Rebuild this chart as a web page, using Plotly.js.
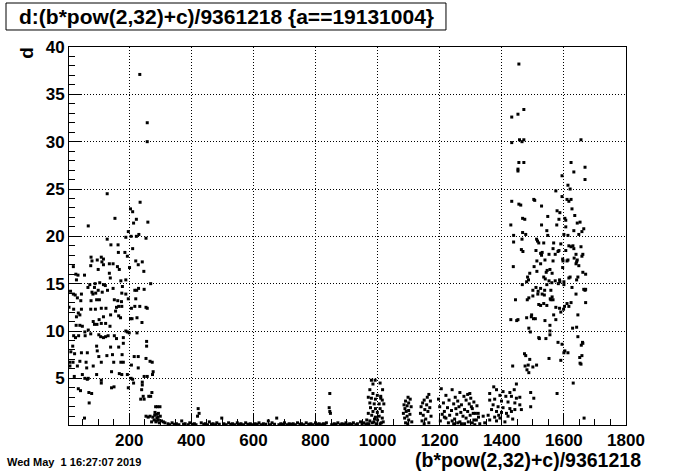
<!DOCTYPE html>
<html>
<head>
<meta charset="utf-8">
<script src="https://cdn.plot.ly/plotly-3.0.1.min.js"></script>
<style>html,body{margin:0;padding:0;background:#fff;}#chart{width:696px;height:472px;}</style>
</head>
<body>
<div id="chart"></div>
<script>
// ---- data (x = (b*pow(2,32)+c)/9361218, y = d) ----
const leftX = [234,258,258,129,235,154,260,68,204,211,214,223,231,197,206,223,254,129,141,164,189,211,165,186,194,77,110,117,80,97,112,117,136,148,76,20,162,221,229,242,201,168,100,247,136,28,35,56,139,173,189,269,105,117,123,30,73,90,67,88,148,178,218,224,230,248,11,20,26,46,33,80,83,92,100,113,130,176,189,197,221,152,163,175,77,95,104,44,6,21,46,76,91,110,125,159,166,176,207,218,234,254,258,36,41,30,156,140,166,172,204,209,225,117,103,241,84,88,96,110,124,49,29,41,138,68,57,189,194,200,225,21,27,37,58,76,102,108,117,124,132,152,159,181,256,256,18,95,140,166,181,97,12,24,46,65,102,128,146,177,216,229,254,267,274,9,19,41,61,110,150,173,181,9,33,84,207,229,63,143,23,49,95,168,176,194,248,258,277,275,57,65,68,110,110,206,211,214,36,43,143,151,197,242,242,240,70,79,71,273,237,245,248,263,269,56,254,261,267,285,291,299,283,289,294,276,289,300,280,294,304,286,310,272,297,315,282,292,287];
const leftY = [37.1,32.0,30.0,24.5,23.6,21.9,21.5,21.1,22.9,22.6,21.4,21.8,20.2,20.5,20.0,20.0,19.8,19.7,19.1,19.1,19.9,18.7,18.3,18.3,17.9,17.8,17.8,17.6,17.4,17.5,17.3,17.0,17.1,17.1,16.9,16.8,16.8,17.4,17.0,17.3,16.7,16.5,16.5,16.3,16.1,16.0,15.9,15.9,15.6,15.3,15.4,15.0,15.1,14.9,14.8,15.4,14.9,15.0,14.6,14.6,14.5,14.7,14.3,14.3,14.5,14.4,14.2,13.9,13.8,13.9,13.5,14.1,13.9,14.0,14.3,14.1,14.3,14.0,13.9,13.4,13.4,13.3,13.2,13.1,13.2,13.3,13.3,13.2,12.5,12.3,12.3,12.3,12.3,12.4,12.4,12.5,12.6,12.6,12.4,12.6,12.6,12.5,12.4,11.9,11.7,11.5,12.1,11.7,11.6,11.4,11.3,11.3,11.4,11.5,11.2,10.9,11.0,10.7,10.7,10.8,10.8,10.5,10.6,10.6,10.5,10.1,9.9,10.0,9.9,9.8,9.8,9.5,9.3,9.5,9.5,9.7,9.6,9.4,9.3,9.4,9.5,9.5,9.2,9.3,8.9,8.4,8.4,8.4,8.3,8.3,8.7,7.9,7.8,7.6,7.7,7.7,7.3,7.4,7.5,7.5,7.3,7.3,7.1,6.8,6.7,6.7,6.7,6.8,6.7,6.7,6.7,6.7,6.7,6.3,6.3,6.3,6.4,6.1,6.1,5.7,5.2,5.4,5.4,5.5,5.4,5.4,5.2,5.2,5.7,5.4,5.0,4.9,5.0,4.8,4.5,5.0,4.9,4.5,3.9,3.7,4.0,4.1,4.0,4.6,4.3,3.8,3.5,3.4,2.4,3.5,2.8,3.1,2.8,3.1,3.1,0.8,1.0,0.9,1.0,2.0,2.0,2.0,1.4,1.2,1.3,0.9,0.8,1.0,0.6,0.6,0.5,0.4,0.4,0.4,0.3,0.3,1.1,0.9,0.5];

const lowX = [325,338,352,369,380,395,410,420,422,425,432,445,458,470,482,498,505,520,533,548,560,575,590,605,618,632,648,660,675,688,700,715,728,742,755,770,785,800,812,825,835,844,846,848,846,860,872,885,898,910,922,935,945,955,965,
  330,345,360,375,390,405,415,440,452,465,478,490,512,527,540,555,568,582,597,612,625,640,655,668,682,695,708,722,735,750,762,778,792,806,818,830,852,866,880,893,905,917,930,950,962];
const lowY = [0.2,0.3,0.2,0.5,0.2,0.3,0.2,1.0,1.8,1.3,0.3,0.2,0.4,0.2,0.3,0.8,0.2,0.3,0.2,0.3,0.2,0.3,0.2,0.2,0.3,0.2,0.5,0.3,0.8,0.2,0.3,0.2,0.2,0.3,0.2,0.3,0.2,0.3,0.2,0.2,0.3,1.9,3.4,1.3,1.5,0.2,0.3,0.2,0.3,0.2,0.3,0.2,0.4,0.3,0.2,
  0.1,0.15,0.1,0.15,0.1,0.15,0.1,0.15,0.1,0.15,0.1,0.15,0.1,0.15,0.1,0.15,0.1,0.15,0.1,0.15,0.1,0.15,0.1,0.15,0.1,0.15,0.1,0.15,0.1,0.15,0.1,0.15,0.1,0.15,0.1,0.15,0.1,0.15,0.1,0.15,0.1,0.15,0.1,0.15,0.1];

const midX = [980,992,985,1008,975,1016,985,999,1010,970,980,993,1010,1015,975,989,1005,1020,977,993,1008,985,999,1015,970,981,1005,993,1015,965,975,988,1000,1012,983,995,1008,972,1018,990,
  1098,1105,1090,1100,1085,1095,1108,1088,1100,1092,1083,1104,1095,1087,1100,1110,1090,1097,
  1165,1160,1150,1170,1145,1158,1140,1168,1152,1162,1138,1147,1172,1155,1143,1165,1150,
  1205,1240,1265,1290,1220,1250,1278,1300,1196,1230,1258,1285,1310,1212,1245,1270,1295,1320,1200,1225,1252,1262,1280,1305,1215,1238,1268,1290,1315,1208,1232,1255,1275,1298,1325,1220,1248,1285,1310,1202,1240,1265,1292,1228,1258,1280,1305,1245,1270,1215,
  1374,1383,1447,1440,1426,1404,1394,1361,1413,1431,1447,1458,1361,1377,1399,1420,1442,1458,1372,1388,1404,1426,1442,1367,1383,1399,1415,1431,1356,1377,1394,1361,1383,1345,1329,1313,1340,1324,1302,1308,1318,1297,1493,1493,1503,1463,1578,1630,1665,1410,1435,1390,1420];
const midY = [4.8,4.8,4.4,4.5,3.8,3.8,3.4,3.2,3.1,3.0,2.9,2.8,2.9,2.7,2.4,2.3,2.3,2.3,1.9,1.8,1.8,1.5,1.4,1.5,1.3,1.1,1.0,0.9,0.8,0.6,0.5,0.4,0.6,0.3,0.3,0.2,0.2,0.2,0.4,0.7,
  3.0,2.8,2.6,2.4,2.2,2.1,2.0,1.8,1.6,1.5,1.3,1.2,1.0,0.8,0.6,0.4,0.3,0.2,
  3.3,3.0,2.7,2.6,2.4,2.2,2.0,1.9,1.7,1.5,1.3,1.1,1.0,0.7,0.5,0.3,0.2,
  3.9,3.8,3.5,3.3,3.2,3.0,3.1,2.9,2.8,2.7,2.6,2.7,2.5,2.4,2.3,2.2,2.3,2.1,2.0,1.9,1.8,2.0,1.7,1.8,1.5,1.6,1.4,1.5,1.3,1.2,1.1,1.2,1.0,1.1,0.9,0.8,0.7,0.8,0.6,0.5,0.5,0.4,0.4,0.3,0.3,0.2,0.3,0.2,0.2,0.9,
  4.1,3.8,4.4,3.8,3.5,3.6,3.2,3.4,3.1,3.1,2.9,3.0,2.7,2.8,2.6,2.5,2.4,2.2,2.2,2.0,1.9,1.8,1.7,1.7,1.5,1.4,1.3,1.5,1.1,0.9,0.8,0.6,0.5,0.3,0.2,0.1,1.0,1.3,2.0,1.3,0.6,3.4,3.5,2.0,2.9,1.7,3.4,4.5,0.8,0.4,0.7,1.1,1.0];

const rightX = [1455,1471,1452,1432,1432,1457,1465,1471,1655,1455,1471,1452,1452,1623,1668,1632,1594,1668,1613,1620,1574,1594,1503,1506,1432,1610,1623,1616,1455,1461,1528,1626,1548,1467,1474,1578,1587,1603,1606,1635,1584,1652,1643,1429,1528,1577,1606,1664,1545,1467,1477,1658,1438,1548,1600,1613,1632,1648,1465,1512,1519,1515,1438,1535,1567,1590,1616,1623,1629,1655,1463,1468,1510,1565,1581,1584,1606,1632,1530,1528,1525,1552,1572,1639,1661,1658,1539,1513,1525,1565,1596,1597,1610,1613,1633,1643,1641,1639,1648,1437,1504,1596,1513,1546,1543,1555,1562,1490,1661,1670,1483,1486,1480,1535,1540,1552,1561,1572,1586,1600,1616,1620,1641,1645,1466,1545,1582,1587,1600,1510,1525,1500,1517,1626,1664,1670,1668,1538,1558,1500,1530,1516,1537,1639,1487,1562,1556,1444,1482,1519,1525,1535,1545,1558,1565,1574,1586,1599,1610,1616,1623,1670,1590,1602,1480,1496,1502,1495,1508,1567,1574,1429,1448,1452,1539,1645,1555,1555,1555,1487,1492,1542,1521,1519,1645,1628,1641,1581,1594,1660,1656,1661,1603,1613,1600,1473,1477,1490,1552,1651,1658,1652,1655,1590,1435,1475,1485,1500,1512,1481,1487];
const rightY = [38.2,33.4,32.9,32.6,29.9,30.2,30.0,30.2,30.2,27.8,27.8,27.1,26.9,27.8,27.3,26.8,26.4,26.0,25.4,25.0,24.8,24.2,23.9,23.8,23.7,23.9,23.9,23.7,23.4,23.3,23.2,22.9,22.1,21.9,21.8,22.7,22.5,21.9,21.7,22.2,21.8,21.5,21.4,21.2,21.2,21.2,21.0,20.8,20.6,20.4,20.2,20.5,20.1,20.1,20.2,20.1,20.6,20.2,19.7,19.7,19.3,19.5,19.4,19.3,19.3,19.2,19.0,18.9,19.0,18.9,18.6,18.4,18.5,18.7,18.4,18.5,18.5,18.7,18.3,18.0,18.2,18.1,18.1,18.1,18.1,17.9,17.5,17.4,17.1,17.4,17.6,17.4,17.4,17.5,17.7,17.5,17.3,17.1,16.9,16.8,16.8,16.7,16.3,16.4,16.2,16.5,16.1,16.1,16.2,16.0,15.7,15.4,15.2,15.7,15.5,15.3,15.1,15.3,15.4,15.2,15.6,15.7,15.4,15.7,14.9,14.9,15.0,15.2,14.9,14.6,14.5,14.3,14.2,14.6,14.4,14.4,14.3,14.3,14.3,13.7,13.9,13.9,13.8,13.9,13.5,13.6,13.4,13.3,13.3,12.8,12.7,12.9,12.7,13.3,13.3,12.5,12.4,12.3,12.9,12.6,13.0,13.0,12.0,12.6,11.4,11.7,11.3,11.5,11.3,11.7,11.2,11.2,11.1,11.2,11.1,11.7,10.6,10.0,9.6,10.3,9.9,9.2,9.2,9.3,9.4,10.3,10.4,8.8,8.6,8.8,8.5,8.7,7.9,7.7,7.7,7.6,7.4,7.0,7.1,7.2,7.4,6.6,6.5,6.9,6.3,6.3,6.4,6.2,6.4,5.9,5.6];

const xTickVals = [200,400,600,800,1000,1200,1400,1600,1800];
const yTickVals = [5,10,15,20,25,30,35,40];
const titleText = 'd:(b*pow(2,32)+c)/9361218 {a==19131004}';
const xTitleText = '(b*pow(2,32)+c)/9361218';
const yTitleText = 'd';
const dateText = 'Wed May  1 16:27:07 2019';

// ---- chart ----
const X = [].concat(leftX, lowX, midX, rightX);
const Y = [].concat(leftY, lowY, midY, rightY);
const FONT = 'Liberation Sans, Arial, Helvetica, sans-serif';

const trace = {
  type: 'scatter', mode: 'markers', x: X, y: Y,
  marker: {symbol: 'square', size: 3, color: '#000', line: {width: 0}},
  hoverinfo: 'skip', cliponaxis: true
};

const axisCommon = {
  showline: true, linecolor: '#000', linewidth: 1, mirror: true,
  ticks: 'inside', tickcolor: '#000', tickwidth: 1,
  showgrid: true, gridcolor: '#000', griddash: '1px,2px', gridwidth: 1,
  zeroline: false,
  tickfont: {family: FONT, size: 17, color: '#000', weight: 'bold'}
};

const layout = {
  width: 696, height: 472,
  margin: {l: 69, r: 70, t: 47, b: 47, pad: 0},
  paper_bgcolor: '#fff', plot_bgcolor: '#fff',
  showlegend: false,
  xaxis: Object.assign({}, axisCommon, {
    range: [6, 1800], tickmode: 'array', tickvals: xTickVals, ticklen: 11,
    minor: {dtick: 50, tick0: 0, ticks: 'inside', ticklen: 6, tickcolor: '#000', showgrid: false}
  }),
  yaxis: Object.assign({}, axisCommon, {
    range: [0.07, 40], tickmode: 'array', tickvals: yTickVals, ticklen: 12,
    minor: {dtick: 1, tick0: 0, ticks: 'inside', ticklen: 6, tickcolor: '#000', showgrid: false}
  }),
  shapes: [{
    type: 'rect', xref: 'paper', yref: 'paper',
    x0: -0.1131, x1: 0.6768, y0: 1.0450, y1: 1.1164,
    line: {color: '#000', width: 1}, fillcolor: '#fff', layer: 'above'
  }],
  annotations: [
    {text: titleText, xref: 'paper', yref: 'paper', x: 0.2819, y: 1.0794,
     xanchor: 'center', yanchor: 'middle', showarrow: false,
     font: {family: FONT, size: 21, color: '#000', weight: 'bold'}},
    {text: xTitleText, xref: 'paper', yref: 'paper', x: 1.0305, y: -0.0926,
     xanchor: 'right', yanchor: 'middle', showarrow: false,
     font: {family: FONT, size: 19.5, color: '#000', weight: 'bold'}},
    {text: yTitleText, xref: 'paper', yref: 'paper', x: -0.0754, y: 0.985,
     xanchor: 'center', yanchor: 'middle', showarrow: false, textangle: -90,
     font: {family: FONT, size: 19, color: '#000', weight: 'bold'}},
    {text: dateText, xref: 'paper', yref: 'paper', x: -0.1149, y: -0.0979,
     xanchor: 'left', yanchor: 'middle', showarrow: false,
     font: {family: FONT, size: 11, color: '#000', weight: 'bold'}}
  ]
};

Plotly.newPlot('chart', [trace], layout, {staticPlot: true, displayModeBar: false});
</script>
</body>
</html>
